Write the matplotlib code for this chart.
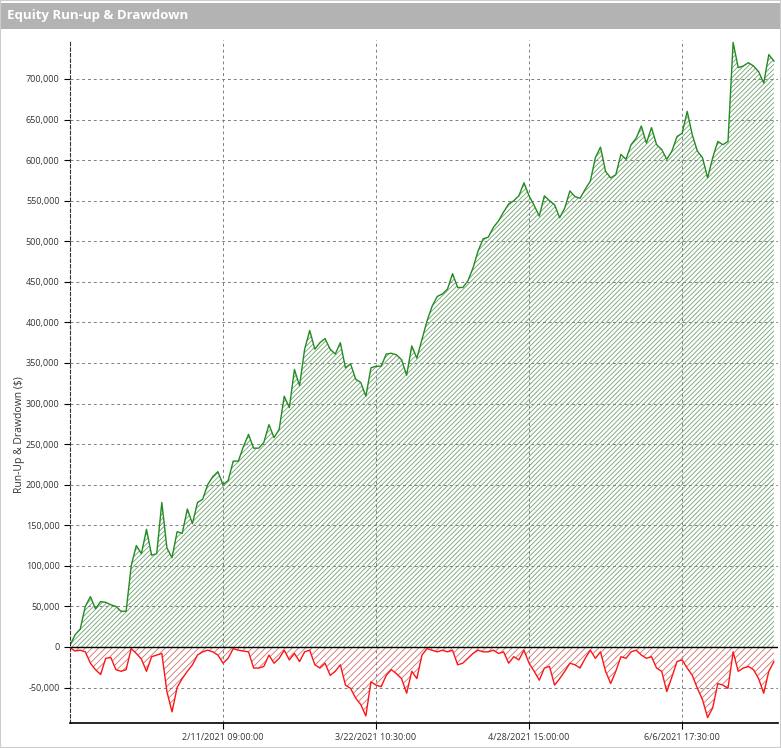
# equity_runup.py
# Equity run-up and drawdown chart of a trading strategy, hatched areas like the platform report.

import matplotlib
matplotlib.use('Agg')
import matplotlib.pyplot as plt
import numpy as np
from matplotlib.patches import Rectangle
from matplotlib.ticker import MultipleLocator, FuncFormatter

# values in thousands of $, one sample per bar step
equity = [
    2, 15, 22, 50, 62, 47, 56, 55, 52, 50,
    44, 44, 100, 125, 115, 145, 113, 115, 178, 122,
    110, 142, 140, 170, 152, 178, 182, 200, 210, 216,
    200, 205, 229, 229, 247, 262, 245, 245, 252, 274,
    258, 268, 309, 295, 342, 322, 367, 390, 367, 375,
    380, 367, 361, 375, 344, 349, 330, 326, 309, 344,
    346, 346, 361, 362, 360, 354, 335, 371, 356, 379,
    402, 420, 432, 435, 441, 460, 443, 443, 451, 467,
    488, 503, 505, 517, 525, 536, 546, 550, 556, 572,
    556, 544, 531, 556, 550, 545, 529, 541, 562, 555,
    553, 564, 574, 603, 616, 586, 578, 582, 607, 601,
    619, 627, 642, 621, 640, 619, 613, 601, 611, 629,
    633, 660, 631, 611, 603, 578, 603, 623, 619, 623,
    745, 714, 716, 720, 716, 709, 695, 730, 722,
]

drawdown = [
    -1, -5, -4, -6, -20, -28, -34, -14, -13, -28,
    -30, -28, -2, -8, -15, -30, -12, -10, -8, -55,
    -80, -50, -39, -30, -22, -10, -6, -4, -6, -10,
    -20, -14, -2, -4, -5, -6, -26, -26, -24, -10,
    -20, -14, -4, -16, -8, -18, -6, -4, -22, -26,
    -20, -35, -30, -22, -47, -51, -63, -71, -85, -43,
    -47, -49, -35, -28, -33, -39, -57, -30, -39, -10,
    -2, -4, -6, -4, -6, -4, -22, -20, -14, -8,
    -4, -6, -6, -4, -8, -6, -20, -12, -16, -4,
    -20, -30, -41, -26, -24, -47, -39, -30, -20, -22,
    -26, -14, -4, -14, -6, -30, -45, -30, -12, -14,
    -6, -4, -10, -14, -12, -26, -30, -55, -37, -18,
    -16, -26, -35, -51, -65, -87, -75, -45, -47, -51,
    -6, -30, -26, -24, -28, -39, -57, -30, -18,
]

tick_bars = [30, 60, 90, 120]
tick_labels = ['2/11/2021 09:00:00', '3/22/2021 10:30:00',
               '4/28/2021 15:00:00', '6/6/2021 17:30:00']

plt.rcParams['font.family'] = ['Open Sans', 'DejaVu Sans']
plt.rcParams['hatch.linewidth'] = 0.6

W, H = 781, 748
fig = plt.figure(figsize=(W / 100, H / 100), dpi=100)

# title bar
fig.patches.append(Rectangle((0, 1 - 29 / H), 1, 26.5 / H, transform=fig.transFigure,
                             facecolor='#b3b3b3', edgecolor='none'))
fig.patches.append(Rectangle((0, 0), 1, 1, transform=fig.transFigure,
                             fill=False, edgecolor='#cccccc', lw=1.5))
fig.text(7 / W, 1 - 16 / H, 'Equity Run-up & Drawdown', color='white',
         fontweight='bold', fontsize=9.5, va='center', ha='left')

ax = fig.add_axes([70 / W, (H - 723) / H, (778 - 70) / W, (723 - 40) / H])

x = np.arange(len(equity))
eq = np.array(equity) * 1000
dd = np.array(drawdown) * 1000

ax.fill_between(x, 0, eq, facecolor='none', edgecolor='#6fa26f', hatch='/' * 7, linewidth=0)
ax.fill_between(x, 0, dd, facecolor='none', edgecolor='#d07070', hatch='/' * 5, linewidth=0)
ax.plot(x, eq, color='#228b22', lw=1)
ax.plot(x, dd, color='#ff1414', lw=1)
ax.axhline(0, color='black', lw=1)

ax.set_xlim(0, 138.8)
ax.set_ylim(-93700, 748000)
ax.yaxis.set_major_locator(MultipleLocator(50000))
ax.yaxis.set_major_formatter(FuncFormatter(lambda v, p: f'{v:,.0f}'))
ax.set_xticks(tick_bars)
ax.set_xticklabels(tick_labels)

ax.grid(True, ls=(0, (3, 3)), color='#808080', lw=0.7)
ax.tick_params(labelsize=6.5, labelcolor='#333333', length=4, width=0.8)

for s in ['top', 'right']:
    ax.spines[s].set_visible(False)
ax.spines['left'].set_linestyle((0, (3, 2)))
ax.spines['left'].set_color('#333333')
ax.spines['bottom'].set_color('black')
ax.spines['bottom'].set_linewidth(1.2)

fig.text(20 / W, 1 - 435 / H, 'Run-Up & Drawdown ($)', rotation=90, fontsize=7.5,
         color='#333333', va='center', ha='center')

fig.savefig('out.png', dpi=100)
